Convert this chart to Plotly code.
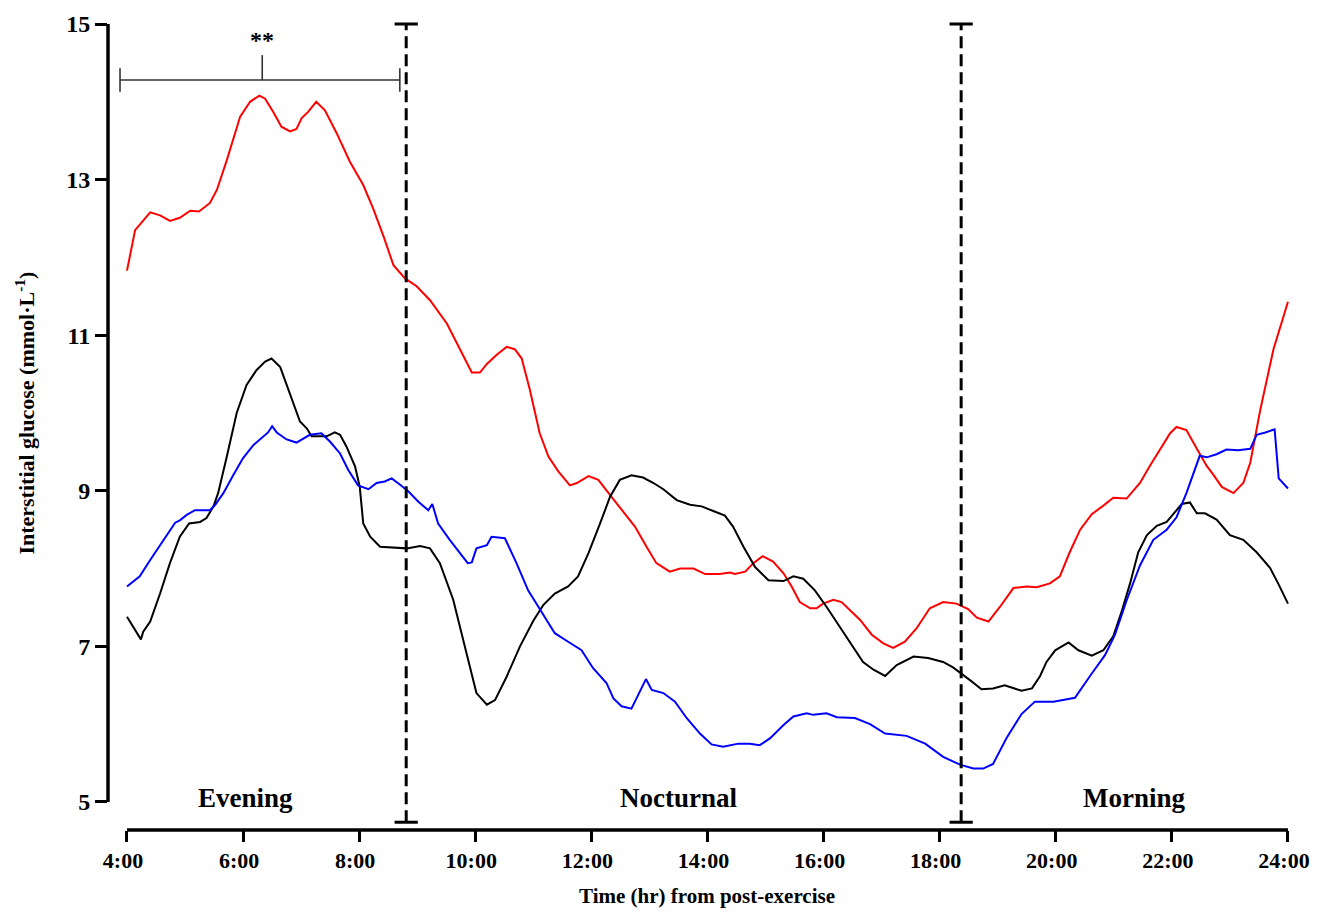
import plotly.graph_objects as go


#%% Data (time in hours, glucose in mmol/L)

red_t = [4.0, 4.14, 4.40, 4.57, 4.74, 4.91, 5.09, 5.24, 5.43, 5.55, 5.72, 5.95, 6.12, 6.28, 6.38,
         6.52, 6.66, 6.81, 6.92, 7.01, 7.12, 7.26, 7.41, 7.61, 7.84, 8.07, 8.24, 8.42, 8.59, 8.79,
         8.99, 9.22, 9.51, 9.74, 9.94, 10.08, 10.20, 10.37, 10.54, 10.68, 10.80, 10.94, 11.11, 11.26,
         11.43, 11.63, 11.75, 11.95, 12.12, 12.35, 12.55, 12.75, 12.95, 13.12, 13.35, 13.53, 13.76,
         13.96, 14.21, 14.39, 14.47, 14.65, 14.79, 14.95, 15.13, 15.31, 15.45, 15.59, 15.77, 15.88,
         15.99, 16.17, 16.31, 16.45, 16.63, 16.83, 17.03, 17.20, 17.40, 17.60, 17.83, 18.06, 18.29,
         18.49, 18.64, 18.84, 19.04, 19.27, 19.50, 19.67, 19.90, 20.07, 20.24, 20.42, 20.62, 20.82,
         20.99, 21.22, 21.45, 21.62, 21.80, 21.97, 22.08, 22.25, 22.43, 22.60, 22.71, 22.86, 23.06,
         23.23, 23.35, 23.52, 23.75, 24.0]
red_v = [11.83, 12.35, 12.58, 12.54, 12.47, 12.51, 12.60, 12.59, 12.70, 12.87, 13.25, 13.81, 14.00,
         14.08, 14.04, 13.87, 13.68, 13.62, 13.65, 13.79, 13.87, 14.00, 13.89, 13.60, 13.23, 12.93,
         12.63, 12.27, 11.90, 11.73, 11.63, 11.45, 11.15, 10.81, 10.52, 10.52, 10.63, 10.75, 10.85,
         10.82, 10.70, 10.30, 9.74, 9.44, 9.25, 9.07, 9.10, 9.19, 9.14, 8.92, 8.73, 8.54, 8.28, 8.07,
         7.96, 8.00, 8.00, 7.93, 7.93, 7.95, 7.93, 7.96, 8.07, 8.16, 8.09, 7.94, 7.77, 7.57, 7.49,
         7.49, 7.55, 7.60, 7.57, 7.47, 7.34, 7.15, 7.04, 6.98, 7.06, 7.23, 7.49, 7.57, 7.55, 7.48,
         7.37, 7.32, 7.51, 7.75, 7.77, 7.76, 7.81, 7.90, 8.21, 8.50, 8.70, 8.81, 8.91, 8.90, 9.10,
         9.32, 9.54, 9.74, 9.82, 9.78, 9.54, 9.32, 9.21, 9.05, 8.97, 9.10, 9.36, 10.03, 10.82, 11.43]

black_t = [4.0, 4.14, 4.24, 4.28, 4.40, 4.57, 4.74, 4.91, 5.07, 5.26, 5.37, 5.49, 5.57, 5.72, 5.89,
           6.06, 6.23, 6.38, 6.49, 6.64, 6.81, 6.98, 7.10, 7.18, 7.44, 7.58, 7.67, 7.78, 7.93, 8.01,
           8.07, 8.19, 8.36, 8.59, 8.82, 9.05, 9.22, 9.39, 9.62, 9.85, 10.02, 10.20, 10.34, 10.54,
           10.77, 11.00, 11.17, 11.37, 11.60, 11.77, 11.95, 12.15, 12.32, 12.49, 12.69, 12.89, 13.07,
           13.24, 13.47, 13.70, 13.90, 14.10, 14.30, 14.44, 14.62, 14.82, 15.05, 15.31, 15.48, 15.65,
           15.85, 16.05, 16.28, 16.51, 16.68, 16.86, 17.06, 17.26, 17.55, 17.80, 18.06, 18.23, 18.38,
           18.55, 18.72, 18.92, 19.12, 19.27, 19.41, 19.59, 19.73, 19.84, 19.99, 20.22, 20.39, 20.62,
           20.82, 20.99, 21.14, 21.28, 21.42, 21.57, 21.74, 21.91, 22.03, 22.17, 22.31, 22.43, 22.57,
           22.77, 23.00, 23.23, 23.46, 23.69, 23.83, 24.0]
black_v = [7.38, 7.21, 7.09, 7.19, 7.32, 7.68, 8.07, 8.41, 8.58, 8.60, 8.65, 8.80, 8.97, 9.44, 10.00,
           10.36, 10.55, 10.66, 10.70, 10.59, 10.25, 9.89, 9.80, 9.70, 9.70, 9.75, 9.72, 9.57, 9.31,
           9.05, 8.58, 8.41, 8.28, 8.27, 8.26, 8.29, 8.26, 8.07, 7.60, 6.91, 6.40, 6.25, 6.31, 6.61,
           7.00, 7.33, 7.53, 7.68, 7.77, 7.90, 8.20, 8.58, 8.92, 9.14, 9.20, 9.17, 9.10, 9.02, 8.88,
           8.82, 8.80, 8.74, 8.68, 8.54, 8.28, 8.02, 7.85, 7.84, 7.90, 7.87, 7.72, 7.51, 7.25, 7.00,
           6.80, 6.70, 6.62, 6.76, 6.87, 6.85, 6.80, 6.73, 6.64, 6.55, 6.45, 6.46, 6.50, 6.46, 6.43,
           6.46, 6.62, 6.80, 6.95, 7.05, 6.95, 6.88, 6.95, 7.13, 7.46, 7.81, 8.21, 8.43, 8.55, 8.60,
           8.70, 8.83, 8.85, 8.71, 8.71, 8.63, 8.43, 8.37, 8.21, 8.01, 7.81, 7.55]

blue_t = [4.0, 4.11, 4.22, 4.40, 4.57, 4.71, 4.83, 4.91, 5.03, 5.17, 5.43, 5.52, 5.66, 5.83, 6.00,
          6.18, 6.35, 6.43, 6.50, 6.58, 6.75, 6.92, 7.15, 7.35, 7.50, 7.67, 7.81, 7.98, 8.16, 8.30,
          8.44, 8.56, 8.70, 8.85, 9.02, 9.19, 9.26, 9.36, 9.56, 9.74, 9.87, 9.94, 10.02, 10.20, 10.28,
          10.51, 10.71, 10.91, 11.12, 11.37, 11.60, 11.83, 12.03, 12.26, 12.38, 12.52, 12.69, 12.84,
          12.94, 13.04, 13.24, 13.44, 13.64, 13.87, 14.07, 14.27, 14.53, 14.73, 14.90, 15.08, 15.31,
          15.48, 15.71, 15.82, 16.05, 16.23, 16.54, 16.80, 17.06, 17.43, 17.75, 18.06, 18.35, 18.58,
          18.75, 18.92, 19.15, 19.41, 19.64, 19.96, 20.13, 20.33, 20.59, 20.85, 21.02, 21.22, 21.45,
          21.68, 21.91, 22.08, 22.25, 22.48, 22.60, 22.77, 22.94, 23.14, 23.35, 23.46, 23.61, 23.77,
          23.84, 23.92, 24.0]
blue_v = [7.77, 7.83, 7.90, 8.11, 8.30, 8.47, 8.59, 8.62, 8.69, 8.75, 8.75, 8.82, 8.97, 9.20, 9.42,
          9.59, 9.70, 9.75, 9.83, 9.75, 9.66, 9.62, 9.72, 9.74, 9.63, 9.48, 9.27, 9.07, 9.02, 9.10,
          9.12, 9.16, 9.08, 8.99, 8.86, 8.75, 8.83, 8.58, 8.37, 8.20, 8.07, 8.08, 8.26, 8.30, 8.41,
          8.39, 8.07, 7.72, 7.47, 7.17, 7.06, 6.95, 6.72, 6.53, 6.33, 6.23, 6.20, 6.44, 6.58, 6.44,
          6.40, 6.29, 6.08, 5.88, 5.74, 5.71, 5.75, 5.75, 5.73, 5.82, 5.99, 6.10, 6.14, 6.12, 6.14,
          6.09, 6.08, 6.00, 5.88, 5.85, 5.75, 5.58, 5.48, 5.43, 5.43, 5.49, 5.82, 6.13, 6.29, 6.29,
          6.31, 6.34, 6.62, 6.89, 7.15, 7.59, 8.04, 8.37, 8.50, 8.66, 8.97, 9.45, 9.43, 9.47, 9.53,
          9.52, 9.54, 9.72, 9.75, 9.79, 9.16, 9.10, 9.03]

x_ticks = [4, 6, 8, 10, 12, 14, 16, 18, 20, 22, 24]
x_tick_labels = ['4:00', '6:00', '8:00', '10:00', '12:00', '14:00', '16:00', '18:00', '20:00',
                 '22:00', '24:00']
y_ticks = [5, 7, 9, 11, 13, 15]

period_names = ['Evening', 'Nocturnal', 'Morning']
period_centres = [6.05, 13.5, 21.36]
period_bounds = [8.81, 18.37]

bracket_start, bracket_end, bracket_level = 3.88, 8.70, 14.28
bracket_mid = 6.33


#%% Figure

font_family = 'Liberation Serif'

fig = go.Figure()
for t, v, colour in [(red_t, red_v, '#ff0000'), (black_t, black_v, '#000000'), (blue_t, blue_v, '#0000ff')]:
    fig.add_trace(go.Scatter(x=t, y=v, mode='lines', line=dict(color=colour, width=2),
                             showlegend=False, hoverinfo='skip'))

# detached axis lines (Prism style)
fig.add_shape(type='line', xref='paper', yref='y', x0=0, x1=0, y0=5, y1=15,
              line=dict(color='black', width=3.5))
fig.add_shape(type='line', xref='x', yref='paper', x0=4, x1=24, y0=0, y1=0,
              line=dict(color='black', width=3.5))

# period boundaries with end caps
for xb in period_bounds:
    fig.add_shape(type='line', xref='x', yref='y', x0=xb, x1=xb, y0=4.74, y1=15,
                  line=dict(color='black', width=3, dash='12px,6px'))
    for yc in [4.74, 15]:
        fig.add_shape(type='line', xref='x', yref='y', x0=xb - 0.2, x1=xb + 0.2, y0=yc, y1=yc,
                      line=dict(color='black', width=3))

# significance bracket
bracket_colour = '#333333'
fig.add_shape(type='line', x0=bracket_start, x1=bracket_end, y0=bracket_level, y1=bracket_level,
              line=dict(color=bracket_colour, width=1.6))
for xe in [bracket_start, bracket_end]:
    fig.add_shape(type='line', x0=xe, x1=xe, y0=bracket_level - 0.15, y1=bracket_level + 0.15,
                  line=dict(color=bracket_colour, width=1.6))
fig.add_shape(type='line', x0=bracket_mid, x1=bracket_mid, y0=bracket_level, y1=bracket_level + 0.32,
              line=dict(color=bracket_colour, width=1.6))
fig.add_annotation(x=bracket_mid, y=14.8, text='**', showarrow=False,
                   font=dict(family=font_family, size=24, color='black', weight='bold'))

for name, xc in zip(period_names, period_centres):
    fig.add_annotation(x=xc, y=5.05, text=name, showarrow=False,
                       font=dict(family=font_family, size=27, color='black', weight='bold'))

# axis titles
fig.add_annotation(xref='paper', yref='paper', x=0.5025, y=-0.081, text='Time (hr) from post-exercise',
                   showarrow=False, xanchor='center', yanchor='middle',
                   font=dict(family=font_family, size=21, color='black', weight='bold'))
fig.add_annotation(xref='paper', yref='paper', x=-0.07, y=0.5085,
                   text='Interstitial glucose (mmol\u00b7L<sup>-1</sup>)', textangle=-90,
                   showarrow=False, xanchor='center', yanchor='middle',
                   font=dict(family=font_family, size=22, color='black', weight='bold'))

# the page has an 8px body margin, so the figure is sized and offset to fit the window
fig.update_layout(
    width=1303, height=901,
    margin=dict(l=100, r=11, t=2, b=79, autoexpand=False),
    plot_bgcolor='white', paper_bgcolor='white',
    xaxis=dict(range=[3.673, 24.207], tickvals=x_ticks, ticktext=x_tick_labels,
               ticks='outside', ticklen=11, tickwidth=3, tickcolor='black',
               showline=False, showgrid=False, zeroline=False,
               automargin=False, ticklabeloverflow='allow', ticklabelshift=-4,
               tickfont=dict(family=font_family, size=22, color='black', weight='bold')),
    yaxis=dict(range=[4.640, 15.18], tickvals=y_ticks,
               ticks='outside', ticklen=12, tickwidth=2.5, tickcolor='black',
               showline=False, showgrid=False, zeroline=False, automargin=False,
               tickfont=dict(family=font_family, size=24, color='black', weight='bold')),
)

fig.write_html("out.html")
print('done')
